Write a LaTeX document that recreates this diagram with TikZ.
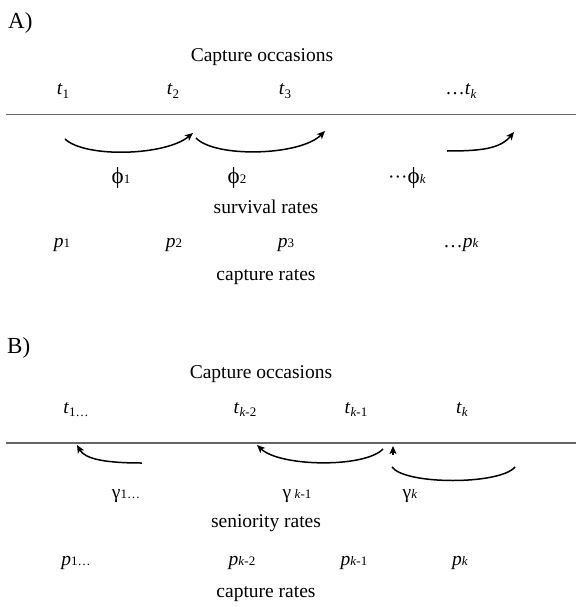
\documentclass[tikz,border=0pt]{standalone}
\usepackage{fontspec}
\setmainfont{Liberation Serif}
\usetikzlibrary{arrows.meta}
\newcommand\sm[1]{{\fontsize{13}{15}\selectfont #1}}
\newcommand\lo[1]{\raisebox{-3.5pt}{\sm{#1}}}
\newcommand\bigphi{{\fontsize{23}{26}\selectfont ϕ}}
\begin{document}
\begin{tikzpicture}[x=1pt,y=-1pt,
  lbl/.style={inner sep=0pt,anchor=base,font=\fontsize{19.5}{23}\selectfont},
  panel/.style={inner sep=0pt,anchor=base west,font=\fontsize{23}{26}\selectfont},
  axis/.style={draw=black!60,line width=1.1pt},
  arc/.style={line width=1.5pt,-{Stealth[length=8pt,width=7pt,inset=2pt]}},
  arcplain/.style={line width=1.5pt}]
\useasboundingbox (0,0) rectangle (576,607);
% ---------- A ----------
\node[panel] (pa) at (8,29) {A)};
\node[lbl] (coa) at (262,62) {Capture occasions};
\node[lbl] (ta1) at (63,95) {\textit{t}\lo{1}};
\node[lbl] (ta2) at (173,95) {\textit{t}\lo{2}};
\node[lbl] (ta3) at (285,95) {\textit{t}\lo{3}};
\node[lbl] (tak) at (461,95) {…\textit{t}\lo{\textit{k}}};
\coordinate (la1) at (6,114.5);
\coordinate (la2) at (576,114.5);
\draw[axis] (la1) -- (la2);
\coordinate (a1s) at (65,139);
\coordinate (a1e) at (193,133);
\coordinate (a2s) at (196,138);
\coordinate (a2e) at (325,131);
\coordinate (a3s) at (447,151);
\coordinate (a3e) at (514,132);
\draw[arc] (a1s) .. controls (85,158) and (165,156) .. (a1e);
\draw[arc] (a2s) .. controls (215,158) and (300,156) .. (a2e);
\draw[arc] (a3s) .. controls (480,151) and (500,149) .. (a3e);
\node[lbl] (ph1) at (121,183) {\bigphi\sm{1}};
\node[lbl] (ph2) at (237,183) {\bigphi\sm{2}};
\node[lbl] (phk) at (407,183) {···\bigphi\sm{\textit{k}}};
\node[lbl] (sur) at (266,213) {survival rates};
\node[lbl] (pa1) at (62,247) {\textit{p}\sm{1}};
\node[lbl] (pa2) at (174,247) {\textit{p}\sm{2}};
\node[lbl] (pa3) at (286,247) {\textit{p}\sm{3}};
\node[lbl] (pak) at (461,247) {…\textit{p}\sm{\textit{k}}};
\node[lbl] (cra) at (266,280) {capture rates};
% ---------- B ----------
\node[panel] (pb) at (7,353) {B)};
\node[lbl] (cob) at (261,378) {Capture occasions};
\node[lbl] (tb1) at (76,413) {\textit{t}\lo{1…}};
\node[lbl] (tb2) at (245,413) {\textit{t}\lo{\textit{k}-2}};
\node[lbl] (tb3) at (356,413) {\textit{t}\lo{\textit{k}-1}};
\node[lbl] (tbk) at (462,413) {\textit{t}\lo{\textit{k}}};
\coordinate (lb1) at (6,443);
\coordinate (lb2) at (576,443);
\draw[axis] (lb1) -- (lb2);
\coordinate (b1s) at (142,463);
\coordinate (b1e) at (77,445);
\coordinate (b2s) at (383,449);
\coordinate (b2e) at (257,445);
\coordinate (b3s) at (392,467);
\coordinate (b3e) at (515,467);
\coordinate (b4s) at (393,455);
\coordinate (b4e) at (393,446);
\draw[arc] (b1s) .. controls (105,463) and (85,459) .. (b1e);
\draw[arc] (b2s) .. controls (365,468) and (280,467) .. (b2e);
\draw[arcplain] (b3s) .. controls (405,485) and (500,485) .. (b3e);
\draw[arc] (b4s) -- (b4e);
\node[lbl] (g1) at (126,498) {γ\sm{1…}};
\node[lbl] (g2) at (297,498) {γ\,\sm{\textit{k}-1}};
\node[lbl] (gk) at (410,498) {γ\sm{\textit{k}}};
\node[lbl] (sen) at (266,527) {seniority rates};
\node[lbl] (pb1) at (76,565) {\textit{p}\sm{1…}};
\node[lbl] (pb2) at (242,565) {\textit{p}\sm{\textit{k}-2}};
\node[lbl] (pb3) at (354,565) {\textit{p}\sm{\textit{k}-1}};
\node[lbl] (pbk) at (460,565) {\textit{p}\sm{\textit{k}}};
\node[lbl] (crb) at (266,597) {capture rates};
\end{tikzpicture}
\end{document}
